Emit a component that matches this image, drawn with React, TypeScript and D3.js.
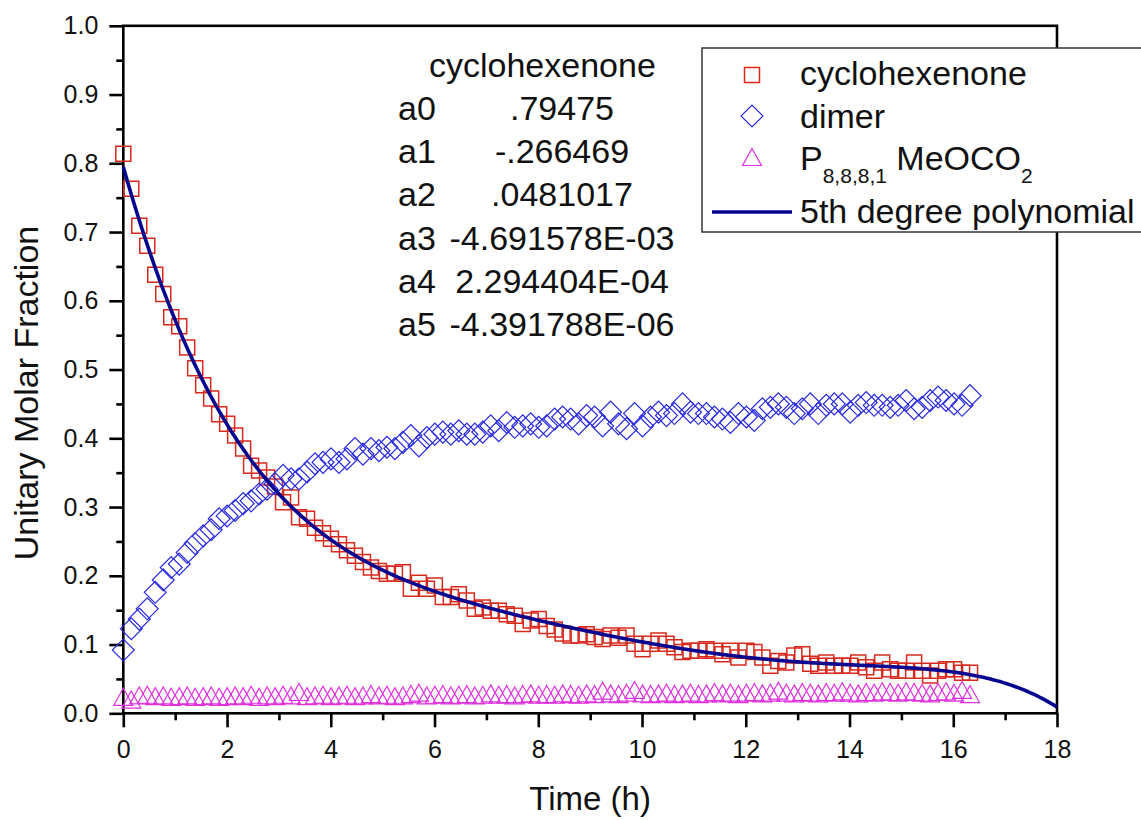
import React, { useEffect, useRef } from 'react';
import * as d3 from 'd3';

// sampling interval of the measurements (hours)
const STEP_H = 0.154;

const cyclohexenone = [
  0.814, 0.763, 0.709, 0.680, 0.638, 0.610, 0.576, 0.563, 0.532, 0.502,
  0.477, 0.458, 0.435, 0.421, 0.404, 0.385, 0.360, 0.353, 0.343, 0.330,
  0.307, 0.314, 0.285, 0.283, 0.270, 0.262, 0.254, 0.246, 0.237, 0.229,
  0.220, 0.212, 0.207, 0.203, 0.203, 0.205, 0.181, 0.190, 0.181, 0.186,
  0.169, 0.169, 0.173, 0.164, 0.152, 0.154, 0.149, 0.149, 0.144, 0.142,
  0.130, 0.135, 0.137, 0.127, 0.122, 0.116, 0.113, 0.113, 0.115, 0.111,
  0.108, 0.113, 0.110, 0.113, 0.101, 0.093, 0.101, 0.106, 0.101, 0.096,
  0.089, 0.091, 0.091, 0.093, 0.091, 0.086, 0.091, 0.081, 0.091, 0.089,
  0.081, 0.069, 0.076, 0.074, 0.084, 0.086, 0.072, 0.069, 0.074, 0.069,
  0.069, 0.069, 0.074, 0.067, 0.062, 0.074, 0.064, 0.062, 0.062, 0.074,
  0.062, 0.055, 0.062, 0.064, 0.064, 0.059, 0.059,
];

const dimer = [
  0.092, 0.123, 0.137, 0.152, 0.176, 0.194, 0.212, 0.217, 0.234, 0.247,
  0.258, 0.267, 0.283, 0.287, 0.295, 0.305, 0.309, 0.319, 0.326, 0.334,
  0.346, 0.341, 0.341, 0.351, 0.363, 0.365, 0.370, 0.365, 0.370, 0.385,
  0.377, 0.385, 0.382, 0.387, 0.385, 0.394, 0.404, 0.389, 0.401, 0.406,
  0.409, 0.406, 0.411, 0.406, 0.406, 0.409, 0.418, 0.411, 0.423, 0.416,
  0.418, 0.421, 0.416, 0.418, 0.428, 0.431, 0.428, 0.421, 0.433, 0.431,
  0.418, 0.438, 0.421, 0.414, 0.436, 0.418, 0.431, 0.438, 0.433, 0.436,
  0.450, 0.438, 0.436, 0.436, 0.431, 0.428, 0.423, 0.436, 0.431, 0.426,
  0.443, 0.445, 0.450, 0.445, 0.436, 0.443, 0.450, 0.436, 0.448, 0.450,
  0.450, 0.438, 0.448, 0.452, 0.448, 0.448, 0.445, 0.448, 0.455, 0.443,
  0.445, 0.455, 0.460, 0.455, 0.450, 0.448, 0.462,
];

const pMeOCO2 = [
  0.024, 0.020, 0.026, 0.027, 0.025, 0.026, 0.024, 0.025, 0.026, 0.024,
  0.025, 0.026, 0.024, 0.025, 0.026, 0.025, 0.027, 0.024, 0.026, 0.025,
  0.027, 0.026, 0.031, 0.025, 0.026, 0.027, 0.025, 0.026, 0.027, 0.025,
  0.026, 0.028, 0.026, 0.027, 0.025, 0.026, 0.028, 0.030, 0.026, 0.027,
  0.028, 0.026, 0.027, 0.028, 0.026, 0.027, 0.029, 0.027, 0.028, 0.026,
  0.028, 0.029, 0.027, 0.028, 0.027, 0.029, 0.028, 0.027, 0.029, 0.028,
  0.033, 0.029, 0.028, 0.030, 0.034, 0.029, 0.028, 0.029, 0.030, 0.028,
  0.029, 0.030, 0.028, 0.029, 0.031, 0.029, 0.030, 0.028, 0.030, 0.031,
  0.029, 0.030, 0.033, 0.030, 0.029, 0.031, 0.030, 0.029, 0.031, 0.030,
  0.032, 0.030, 0.029, 0.031, 0.030, 0.032, 0.031, 0.030, 0.032, 0.031,
  0.030, 0.029, 0.031, 0.032, 0.030, 0.034, 0.028,
];

// fitted 5th degree polynomial, coefficients as printed on the chart
const polyCoeffs = [0.79475, -0.266469, 0.0481017, -4.691578e-3, 2.294404e-4, -4.391788e-6];
const coeffNames = ['a0', 'a1', 'a2', 'a3', 'a4', 'a5'];
const coeffLabels = ['.79475', '-.266469', '.0481017', '-4.691578E-03', '2.294404E-04', '-4.391788E-06'];

const xMajorTicks = [0, 2, 4, 6, 8, 10, 12, 14, 16, 18];
const xMinorTicks = [1, 3, 5, 7, 9, 11, 13, 15, 17];
const yMajorTicks = [0, 0.1, 0.2, 0.3, 0.4, 0.5, 0.6, 0.7, 0.8, 0.9, 1.0];
const yMinorTicks = [0.05, 0.15, 0.25, 0.35, 0.45, 0.55, 0.65, 0.75, 0.85, 0.95];

const W = 1141;
const H = 820;
const FONT = 'Arial, "Liberation Sans", Helvetica, sans-serif';

const colors = {
  square: '#d9281c',
  diamond: '#2a2ae0',
  triangle: '#e030e0',
  fit: '#05058f',
  axis: '#000',
};

const App = () => {
  const svgRef = useRef<SVGSVGElement | null>(null);

  useEffect(() => {
    const svg = d3.select(svgRef.current);
    svg.selectAll('*').remove();

    const x = d3.scaleLinear().domain([0, 18]).range([123.3, 1057]);
    const y = d3.scaleLinear().domain([0, 1]).range([713.3, 25.8]);

    svg.append('rect').attr('width', W).attr('height', H).attr('fill', '#fff');

    // Axes (major + minor ticks)
    const styleAxis = (g: any, fontSize: number) => {
      g.select('.domain').remove();
      g.selectAll('line').attr('stroke', colors.axis).attr('stroke-width', 2.6);
      g.selectAll('text')
        .attr('fill', '#111')
        .style('font-family', FONT)
        .style('font-size', `${fontSize}px`);
    };

    const yAxis = svg.append('g').attr('transform', `translate(${x(0)},0)`)
      .call(d3.axisLeft(y).tickValues(yMajorTicks).tickSize(14).tickPadding(11).tickFormat(d3.format('.1f')));
    styleAxis(yAxis, 25);
    const yMinor = svg.append('g').attr('transform', `translate(${x(0)},0)`)
      .call(d3.axisLeft(y).tickValues(yMinorTicks).tickSize(7).tickFormat(() => ''));
    styleAxis(yMinor, 25);

    const xAxis = svg.append('g').attr('transform', `translate(0,${y(0)})`)
      .call(d3.axisBottom(x).tickValues(xMajorTicks).tickSize(14).tickPadding(13).tickFormat(d3.format('d')));
    styleAxis(xAxis, 25);
    const xMinor = svg.append('g').attr('transform', `translate(0,${y(0)})`)
      .call(d3.axisBottom(x).tickValues(xMinorTicks).tickSize(7).tickFormat(() => ''));
    styleAxis(xMinor, 25);

    // Frame
    svg.append('rect')
      .attr('x', x(0)).attr('y', y(1))
      .attr('width', x(18) - x(0)).attr('height', y(0) - y(1))
      .attr('fill', 'none').attr('stroke', colors.axis).attr('stroke-width', 2.6);

    // Axis titles
    svg.append('text')
      .attr('x', (x(0) + x(18)) / 2).attr('y', 810)
      .attr('text-anchor', 'middle')
      .style('font-family', FONT).style('font-size', '33px').attr('fill', '#111')
      .text('Time (h)');
    svg.append('text')
      .attr('transform', `translate(38,393) rotate(-90)`)
      .attr('text-anchor', 'middle')
      .style('font-family', FONT).style('font-size', '34px').attr('fill', '#111')
      .text('Unitary Molar Fraction');

    // Marker paths
    const squarePath = d3.symbol(d3.symbolSquare, 15 * 15)();
    const diamondPath = d3.symbol(d3.symbolSquare, 15.5 * 15.5)();
    const trianglePath = 'M0,-8.5L9.5,8.5L-9.5,8.5Z';

    const plot = svg.append('g');
    const t = (i: number) => i * STEP_H;

    plot.append('g').selectAll('path')
      .data(cyclohexenone).enter().append('path')
      .attr('d', squarePath)
      .attr('transform', (d, i) => `translate(${x(t(i))},${y(d)})`)
      .attr('fill', 'none').attr('stroke', colors.square).attr('stroke-width', 1.5);

    plot.append('g').selectAll('path')
      .data(dimer).enter().append('path')
      .attr('d', diamondPath)
      .attr('transform', (d, i) => `translate(${x(t(i))},${y(d)}) rotate(45)`)
      .attr('fill', 'none').attr('stroke', colors.diamond).attr('stroke-width', 1.2);

    plot.append('g').selectAll('path')
      .data(pMeOCO2).enter().append('path')
      .attr('d', trianglePath)
      .attr('transform', (d, i) => `translate(${x(t(i))},${y(d)})`)
      .attr('fill', 'none').attr('stroke', colors.triangle).attr('stroke-width', 1.2);

    // Fit curve
    const poly = (tt: number) => polyCoeffs.reduce((s, c, k) => s + c * Math.pow(tt, k), 0);
    const fitT = d3.range(0, 18.0001, 0.05);
    const line = d3.line<number>().x(d => x(d)).y(d => y(poly(d)));
    plot.append('path')
      .datum(fitT)
      .attr('d', line)
      .attr('fill', 'none').attr('stroke', colors.fit).attr('stroke-width', 3.6)
      .attr('stroke-linejoin', 'round');

    // Parameter annotation
    const ann = svg.append('g')
      .style('font-family', FONT).style('font-size', '34px').attr('fill', '#111');
    ann.append('text').attr('x', 429).attr('y', 77).text('cyclohexenone');
    coeffNames.forEach((n, i) => {
      const yy = 120 + i * 43.2;
      ann.append('text').attr('x', 398).attr('y', yy).text(n);
      ann.append('text').attr('x', 562).attr('y', yy).attr('text-anchor', 'middle').text(coeffLabels[i]);
    });

    // Legend
    const lg = svg.append('g');
    lg.append('rect')
      .attr('x', 702).attr('y', 48).attr('width', 460).attr('height', 184)
      .attr('fill', '#fff').attr('stroke', '#333').attr('stroke-width', 1.5);
    lg.append('path').attr('d', squarePath).attr('transform', 'translate(752,75)')
      .attr('fill', 'none').attr('stroke', colors.square).attr('stroke-width', 1.5);
    lg.append('path').attr('d', diamondPath).attr('transform', 'translate(752,116) rotate(45)')
      .attr('fill', 'none').attr('stroke', colors.diamond).attr('stroke-width', 1.2);
    lg.append('path').attr('d', trianglePath).attr('transform', 'translate(752,157)')
      .attr('fill', 'none').attr('stroke', colors.triangle).attr('stroke-width', 1.2);
    lg.append('line').attr('x1', 712).attr('x2', 792).attr('y1', 212).attr('y2', 212)
      .attr('stroke', colors.fit).attr('stroke-width', 3.6);

    const lt = lg.append('g').style('font-family', FONT).style('font-size', '34px').attr('fill', '#111');
    lt.append('text').attr('x', 800).attr('y', 85).text('cyclohexenone');
    lt.append('text').attr('x', 800).attr('y', 128).text('dimer');
    const p = lt.append('text').attr('x', 800).attr('y', 170);
    p.append('tspan').text('P');
    p.append('tspan').attr('dy', 13).style('font-size', '21px').text('8,8,8,1');
    p.append('tspan').attr('dy', -13).text(' MeOCO');
    p.append('tspan').attr('dy', 13).style('font-size', '21px').text('2');
    lt.append('text').attr('x', 800).attr('y', 223).text('5th degree polynomial');
  }, []);

  return (
    <svg
      ref={svgRef}
      width={W}
      height={H}
      style={{ position: 'absolute', left: 0, top: 0, display: 'block', background: '#fff' }}
    />
  );
};

export default App;
